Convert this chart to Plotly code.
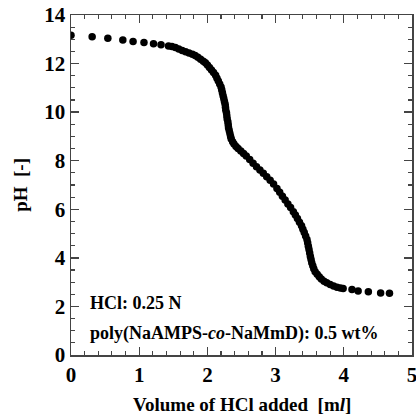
import plotly.graph_objects as go

volume_ml = [
    0.00, 0.31, 0.54, 0.76, 0.91, 1.07, 1.21, 1.32, 1.43,
    1.48, 1.53, 1.58, 1.63, 1.68, 1.73, 1.78, 1.82, 1.86, 1.90,
    1.94, 1.97, 2.00, 2.03, 2.06, 2.09, 2.12, 2.14, 2.16, 2.18,
    2.20, 2.21, 2.22, 2.23, 2.24, 2.25, 2.26, 2.265, 2.27, 2.28,
    2.285, 2.29, 2.30, 2.305, 2.31, 2.32, 2.33, 2.34, 2.35, 2.37,
    2.39, 2.42, 2.45, 2.49, 2.53, 2.57, 2.62, 2.67, 2.72, 2.77,
    2.82, 2.87, 2.92, 2.97, 3.02, 3.06, 3.10, 3.14, 3.18, 3.22,
    3.26, 3.29, 3.32, 3.35, 3.38, 3.40, 3.42, 3.44, 3.46, 3.47,
    3.48, 3.49, 3.50, 3.51, 3.52, 3.53, 3.545, 3.56, 3.58, 3.61,
    3.64, 3.67, 3.71, 3.75, 3.80, 3.85, 3.90, 3.95, 3.99, 4.12,
    4.21, 4.36, 4.54, 4.67,
]
ph_values = [
    13.17, 13.10, 13.04, 12.97, 12.91, 12.87, 12.82, 12.78, 12.72,
    12.70, 12.66, 12.60, 12.54, 12.49, 12.44, 12.38, 12.33, 12.26, 12.18,
    12.10, 12.03, 11.94, 11.84, 11.74, 11.63, 11.52, 11.40, 11.28, 11.16,
    11.04, 10.92, 10.80, 10.68, 10.56, 10.44, 10.32, 10.20, 10.08, 9.96,
    9.84, 9.72, 9.60, 9.48, 9.36, 9.24, 9.12, 9.00, 8.89, 8.78,
    8.69, 8.59, 8.50, 8.40, 8.30, 8.19, 8.05, 7.90, 7.75, 7.62,
    7.48, 7.34, 7.20, 7.04, 6.86, 6.70, 6.54, 6.38, 6.22, 6.07,
    5.90, 5.76, 5.62, 5.47, 5.32, 5.18, 5.04, 4.90, 4.76, 4.62,
    4.48, 4.34, 4.20, 4.06, 3.93, 3.80, 3.67, 3.55, 3.43, 3.32,
    3.22, 3.13, 3.04, 2.97, 2.90, 2.84, 2.79, 2.76, 2.74, 2.70,
    2.64, 2.60, 2.55, 2.54,
]

x_ticks = [0, 1, 2, 3, 4, 5]
y_ticks = [0, 2, 4, 6, 8, 10, 12, 14]
labels = ["HCl: 0.25 N", "poly(NaAMPS-<i>co</i>-NaMmD): 0.5 wt%"]

FONT = "Liberation Serif"

fig = go.Figure()
fig.add_trace(go.Scatter(
    x=volume_ml, y=ph_values, mode="markers",
    marker=dict(color="black", size=7.5, line=dict(width=0)),
    showlegend=False, hoverinfo="skip",
))

axis_common = dict(
    showline=True, linecolor="#444", linewidth=1.5, mirror="ticks",
    ticks="inside", ticklen=8, tickwidth=1.3, tickcolor="#444",
    showgrid=False, zeroline=False, automargin=False,
    ticklabeloverflow="allow",
    tickfont=dict(family=FONT, size=21, color="black", weight="bold"),
    minor=dict(ticks="inside", ticklen=4, tickwidth=1.1, tickcolor="#444", showgrid=False),
)

fig.update_xaxes(
    range=[0, 5], tickvals=x_ticks, ticktext=[str(v) for v in x_ticks],
    minor_dtick=0.2,
    **axis_common,
)
fig.update_yaxes(
    range=[0, 14], tickvals=y_ticks, ticktext=[str(v) for v in y_ticks],
    minor_dtick=0.5,
    **axis_common,
)

# axis titles placed as paper-referenced annotations
fig.add_annotation(x=0.5, y=-0.147, xref="paper", yref="paper", xanchor="center", yanchor="middle",
                   text="<b>Volume of HCl added  [m<i>l</i>]</b>", showarrow=False,
                   font=dict(family=FONT, size=19, color="black"))
fig.add_annotation(x=-0.15, y=0.5, xref="paper", yref="paper", xanchor="center", yanchor="middle",
                   text="<b>pH  [-]</b>", showarrow=False, textangle=-90,
                   font=dict(family=FONT, size=19, color="black"))

fig.add_annotation(x=0.25, y=2.14, xref="x", yref="y", xanchor="left", yanchor="middle",
                   text="<b>" + labels[0] + "</b>", showarrow=False,
                   font=dict(family=FONT, size=18, color="black"))
fig.add_annotation(x=0.25, y=0.9, xref="x", yref="y", xanchor="left", yanchor="middle",
                   text="<b>" + labels[1] + "</b>", showarrow=False,
                   font=dict(family=FONT, size=18, color="black"))

fig.update_layout(
    width=416, height=416,
    margin=dict(l=71, r=4, t=15, b=61),
    paper_bgcolor="white", plot_bgcolor="white",
    font=dict(family=FONT, color="black"),
    hovermode=False,
)

fig.write_html("out.html", config={"displayModeBar": False, "staticPlot": True},
               post_script="document.body.style.margin='0';")
